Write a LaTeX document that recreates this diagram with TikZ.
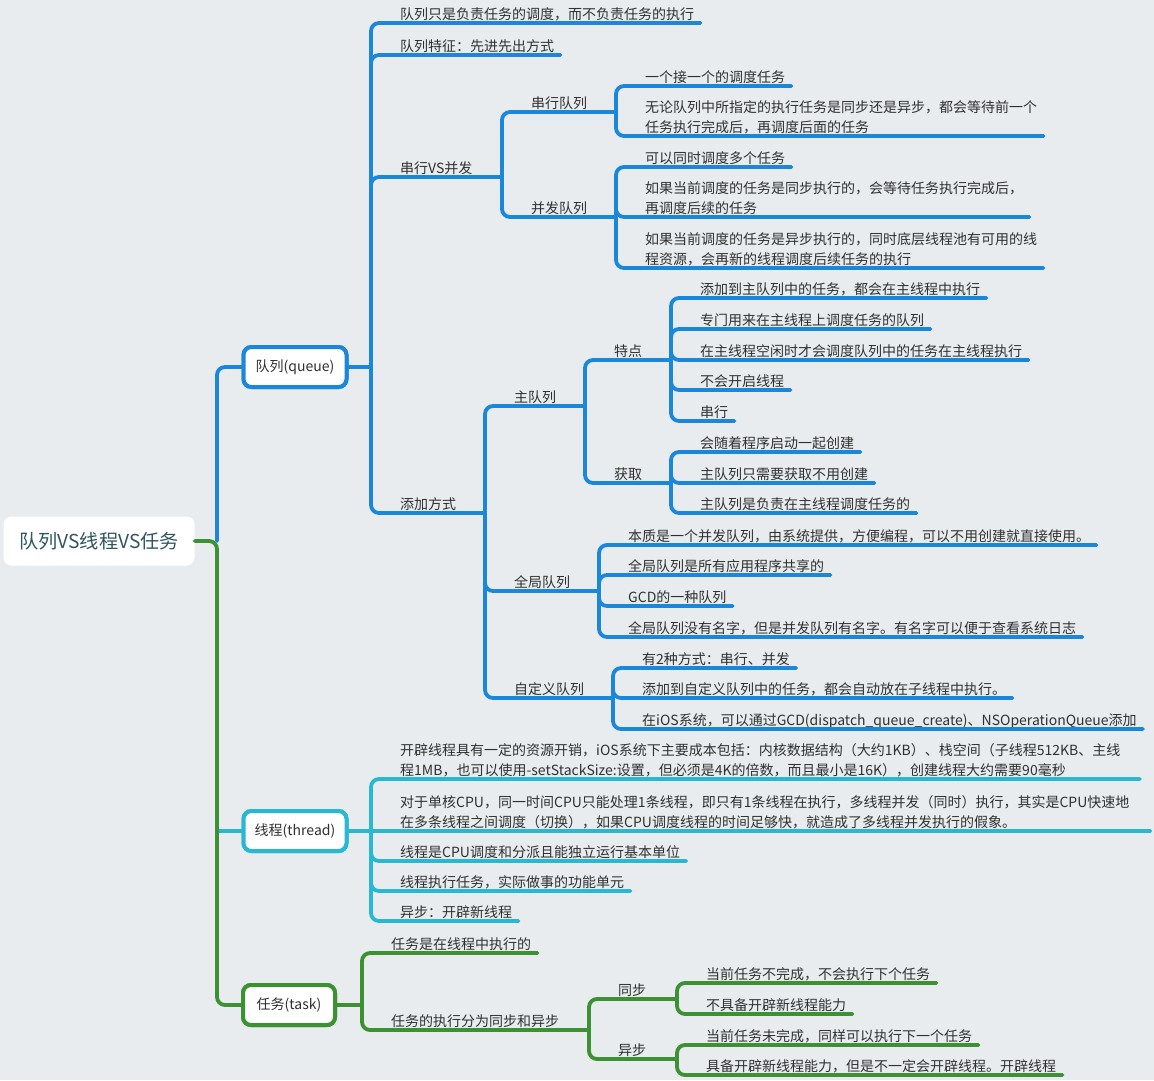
\documentclass[tikz,border=0pt]{standalone}
\usepackage{fontspec}
\setmainfont{Noto Sans CJK SC}
\usetikzlibrary{calc}
\definecolor{bg}{RGB}{232,236,239}
\definecolor{cblue}{RGB}{27,135,219}
\definecolor{ccyan}{RGB}{40,184,210}
\definecolor{cgreen}{RGB}{60,145,50}
\definecolor{txt}{RGB}{48,48,48}
\definecolor{roottxt}{RGB}{47,85,99}
\newcommand\twolines[2]{\begin{tabular}[b]{@{}l@{}}#1\\#2\end{tabular}}
\newcommand\leafnode[6]{%
  \node[lbl] (#1) at (#4+29,#5-4) {#6};
  \draw[br,#2] (#3) |- ($(#1.base east)+(6,4)$);
}
\newcommand\innernode[7]{%
  \node[lbl] (#1) at (#4+29,#5-4) {#7};
  \coordinate (#1-j) at (#6,#5);
  \draw[br,#2] (#3) |- (#1-j);
}
\begin{document}
\begin{tikzpicture}[x=1pt,y=-1pt,
  lbl/.style={anchor=base west, inner sep=0pt, font=\fontsize{14}{20}\selectfont, text=txt},
  br/.style={line width=3.8pt, line cap=round, rounded corners=8pt},
  topicbox/.style={draw, line width=4pt, fill=white, rounded corners=8pt,
    font=\fontsize{14}{20}\selectfont, text=txt, inner sep=0pt,
    minimum width=103pt, minimum height=40pt},
  rootbox/.style={fill=white, rounded corners=8pt, inner sep=0pt,
    minimum width=191pt, minimum height=49pt,
    font=\fontsize{19.2}{22}\selectfont, text=roottxt}]
\fill[bg] (0,0) rectangle (1154,1080);
\useasboundingbox (0,0) rectangle (1154,1080);

% ---------- root and main topics ----------
\node[rootbox] (root) at (99,541) {队列VS线程VS任务};
\coordinate (fork) at (217,541);
\node[topicbox, draw=cblue] (queue) at (295,367) {队列(queue)};
\node[topicbox, draw=ccyan] (thread) at (295,831) {线程(thread)};
\node[topicbox, draw=cgreen, minimum width=92pt] (task) at (289,1005) {任务(task)};

\draw[br,cblue] (fork) |- (queue.west);
\draw[br,ccyan] (thread.west -| fork) -- (thread.west);
\draw[br,cgreen] (root.east) -- (fork) |- (task.west);

% ---------- queue ----------
\coordinate (jq) at (371,367);
\draw[br,cblue] (queue.east) -- (jq);
\leafnode{q1}{cblue}{jq}{371}{23}{队列只是负责任务的调度，而不负责任务的执行}
\leafnode{q2}{cblue}{jq}{371}{55}{队列特征：先进先出方式}
\innernode{q3}{cblue}{jq}{371}{177}{502}{串行VS并发}
\innernode{q4}{cblue}{jq}{371}{513}{485}{添加方式}

\innernode{s1}{cblue}{q3-j}{502}{112}{616}{串行队列}
\innernode{s2}{cblue}{q3-j}{502}{217}{616}{并发队列}

\leafnode{s1a}{cblue}{s1-j}{616}{86}{一个接一个的调度任务}
\leafnode{s1b}{cblue}{s1-j}{616}{136}{\twolines{无论队列中所指定的执行任务是同步还是异步，都会等待前一个}{任务执行完成后，再调度后面的任务}}

\leafnode{s2a}{cblue}{s2-j}{616}{167}{可以同时调度多个任务}
\leafnode{s2b}{cblue}{s2-j}{616}{217}{\twolines{如果当前调度的任务是同步执行的，会等待任务执行完成后，}{再调度后续的任务}}
\leafnode{s2c}{cblue}{s2-j}{616}{268}{\twolines{如果当前调度的任务是异步执行的，同时底层线程池有可用的线}{程资源，会再新的线程调度后续任务的执行}}

\innernode{m1}{cblue}{q4-j}{485}{406}{585}{主队列}
\innernode{m2}{cblue}{q4-j}{485}{591}{599}{全局队列}
\innernode{m3}{cblue}{q4-j}{485}{698}{613}{自定义队列}

\innernode{t1}{cblue}{m1-j}{585}{360}{671}{特点}
\innernode{t2}{cblue}{m1-j}{585}{483}{671}{获取}

\leafnode{t1a}{cblue}{t1-j}{671}{298}{添加到主队列中的任务，都会在主线程中执行}
\leafnode{t1b}{cblue}{t1-j}{671}{329}{专门用来在主线程上调度任务的队列}
\leafnode{t1c}{cblue}{t1-j}{671}{360}{在主线程空闲时才会调度队列中的任务在主线程执行}
\leafnode{t1d}{cblue}{t1-j}{671}{390}{不会开启线程}
\leafnode{t1e}{cblue}{t1-j}{671}{421}{串行}

\leafnode{t2a}{cblue}{t2-j}{671}{452}{会随着程序启动一起创建}
\leafnode{t2b}{cblue}{t2-j}{671}{483}{主队列只需要获取不用创建}
\leafnode{t2c}{cblue}{t2-j}{671}{513}{主队列是负责在主线程调度任务的}

\leafnode{g1}{cblue}{m2-j}{599}{545}{本质是一个并发队列，由系统提供，方便编程，可以不用创建就直接使用。}
\leafnode{g2}{cblue}{m2-j}{599}{575}{全局队列是所有应用程序共享的}
\leafnode{g3}{cblue}{m2-j}{599}{606}{GCD的一种队列}
\leafnode{g4}{cblue}{m2-j}{599}{637}{全局队列没有名字，但是并发队列有名字。有名字可以便于查看系统日志}

\leafnode{c1}{cblue}{m3-j}{613}{668}{有2种方式：串行、并发}
\leafnode{c2}{cblue}{m3-j}{613}{698}{添加到自定义队列中的任务，都会自动放在子线程中执行。}
\leafnode{c3}{cblue}{m3-j}{613}{729}{在iOS系统，可以通过GCD(dispatch\_{}queue\_{}create)、NSOperationQueue添加}

% ---------- thread ----------
\coordinate (jt) at (371,831);
\draw[br,ccyan] (thread.east) -- (jt);
\node[lbl] (h1) at (400,775) {\twolines{开辟线程具有一定的资源开销，iOS系统下主要成本包括：内核数据结构（大约1KB）、栈空间（子线程512KB、主线}{程1MB，也可以使用-setStackSize:设置，但必须是4K的倍数，而且最小是16K），创建线程大约需要90毫秒}};
\coordinate (h1-e) at (1140,779);
\draw[br,ccyan] (jt) |- (h1-e);
\node[lbl] (h2) at (400,827) {\twolines{对于单核CPU，同一时间CPU只能处理1条线程，即只有1条线程在执行，多线程并发（同时）执行，其实是CPU快速地}{在多条线程之间调度（切换），如果CPU调度线程的时间足够快，就造成了多线程并发执行的假象。}};
\coordinate (h2-e) at (1150,831);
\draw[br,ccyan] (jt) -- (h2-e);
\leafnode{h3}{ccyan}{jt}{371}{861}{线程是CPU调度和分派且能独立运行基本单位}
\leafnode{h4}{ccyan}{jt}{371}{891}{线程执行任务，实际做事的功能单元}
\leafnode{h5}{ccyan}{jt}{371}{921}{异步：开辟新线程}

% ---------- task ----------
\coordinate (jk) at (362,1005);
\draw[br,cgreen] (task.east) -- (jk);
\leafnode{k1}{cgreen}{jk}{362}{953}{任务是在线程中执行的}
\innernode{k2}{cgreen}{jk}{362}{1030}{589}{任务的执行分为同步和异步}
\innernode{sy}{cgreen}{k2-j}{589}{999}{677}{同步}
\innernode{ay}{cgreen}{k2-j}{589}{1059}{677}{异步}
\leafnode{sy1}{cgreen}{sy-j}{677}{983}{当前任务不完成，不会执行下个任务}
\leafnode{sy2}{cgreen}{sy-j}{677}{1014}{不具备开辟新线程能力}
\leafnode{ay1}{cgreen}{ay-j}{677}{1045}{当前任务未完成，同样可以执行下一个任务}
\leafnode{ay2}{cgreen}{ay-j}{677}{1075}{具备开辟新线程能力，但是不一定会开辟线程。开辟线程}

% boxes on top of their connectors
\node[topicbox, draw=cblue] at (queue) {队列(queue)};
\node[topicbox, draw=ccyan] at (thread) {线程(thread)};
\node[topicbox, draw=cgreen, minimum width=92pt] at (task) {任务(task)};
\end{tikzpicture}
\end{document}
